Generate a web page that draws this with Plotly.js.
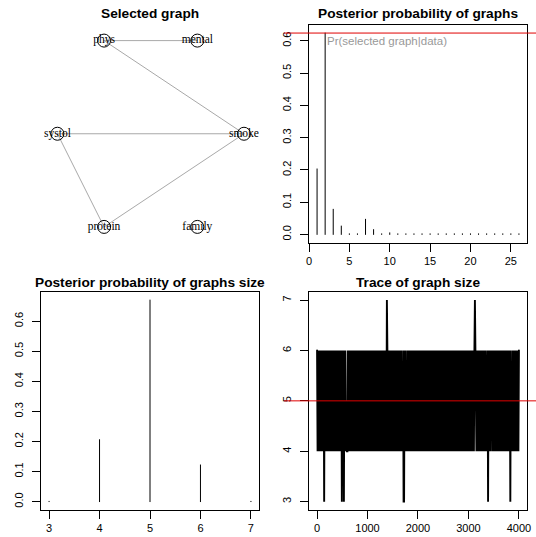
<!DOCTYPE html>
<html>
<head>
<meta charset="utf-8">
<script src="https://cdn.plot.ly/plotly-3.0.1.min.js"></script>
<style>
html,body{margin:0;padding:0;background:#fff;}
#chart{width:536px;height:537px;}
path.js-line{stroke-linecap:round;}
</style>
</head>
<body>
<div id="chart"></div>
<script>
// ---------- data ----------
// Selected graph (circle layout coordinates)
var nodeNames = ["phys", "mental", "systol", "smoke", "protein", "family"];
var nodeX = [-0.5, 0.5, -1, 1, -0.5, 0.5];
var nodeY = [0.866, 0.866, 0, 0, -0.866, -0.866];
var edgeFrom = ["phys", "phys", "systol", "systol", "protein"];
var edgeTo   = ["mental", "smoke", "smoke", "protein", "smoke"];

// Posterior probability of graphs
var graphIndex = [1,2,3,4,5,6,7,8,9,10,11,12,13,14,15,16,17,18,19,20,21,22,23,24,25,26];
var graphProb = [0.203,0.624,0.078,0.026,0.002,0.002,0.047,0.015,0.002,0.005,
                 0.002,0.002,0.002,0.002,0.002,0.002,0.002,0.002,0.002,0.002,
                 0.002,0.002,0.002,0.002,0.002,0.002];
var graphTicks = [0,5,10,15,20,25];

// Posterior probability of graph size
var sizes = [3,4,5,6,7];
var sizeProb = [0.001,0.206,0.670,0.122,0.001];

// Trace of graph size (thinned: one value every ~10 iterations, 1..4000)
var traceStart = 1;
var traceStep = 3999 / 399;
var traceSize = [
 6,4,6,4,5,6,4,6,5,4,6,4,5,6,3,6,4,6,4,6,
 4,6,4,6,5,4,6,4,6,5,4,6,4,6,5,4,6,4,6,5,
 4,6,4,6,5,4,6,4,6,3,6,4,6,3,6,4,6,4,5,4,
 4,6,4,6,5,4,6,4,6,5,4,6,4,6,5,4,6,4,6,5,
 4,6,4,6,5,4,6,4,6,5,4,6,4,6,5,4,6,4,6,5,
 4,6,4,6,5,4,6,4,6,5,4,6,4,6,5,4,6,4,6,5,
 4,6,4,6,5,4,6,4,6,5,4,6,4,6,5,4,6,4,7,6,
 4,6,4,6,5,4,6,4,6,5,4,6,4,6,5,4,6,4,6,5,
 4,6,4,6,5,4,6,4,5,4,6,3,3,6,4,6,4,5,4,6,
 4,6,4,6,5,4,6,4,6,5,4,6,4,6,5,4,6,4,6,5,
 4,6,4,6,5,4,6,4,6,5,4,6,4,6,5,4,6,4,6,5,
 4,6,4,6,5,4,6,4,6,5,4,6,4,6,5,4,6,4,6,5,
 4,6,4,6,5,4,6,4,6,5,4,6,4,6,5,4,6,4,6,5,
 4,6,4,6,5,4,6,4,6,5,4,6,4,6,5,4,6,4,6,5,
 4,6,4,6,5,4,6,4,6,5,4,6,4,6,5,4,6,4,6,5,
 4,6,4,6,5,4,6,4,6,5,4,6,7,6,5,4,6,4,6,5,
 4,6,4,6,5,4,6,4,6,5,4,6,4,6,5,4,5,6,3,6,
 4,6,4,6,5,6,4,6,4,6,5,4,6,4,6,5,4,6,4,6,
 4,6,4,6,5,4,6,4,6,5,4,6,4,6,5,4,6,4,6,5,
 4,6,3,6,4,5,4,6,4,6,5,4,6,4,6,5,4,6,4,6
];
var traceTicks = [0,1000,2000,3000,4000];
var selectedSize = 5;

// ---------- helpers ----------
function rRange(lo, hi){ var d = hi - lo; return [lo - 0.04*d, hi + 0.04*d]; }
function spikes(xs, ys){
  var X = [], Y = [];
  for (var i = 0; i < xs.length; i++){ X.push(xs[i], xs[i], null); Y.push(0, ys[i], null); }
  return {x: X, y: Y};
}
var W = 536, H = 537;
function px(v){ return v / W; }
function py(v){ return 1 - v / H; }

var sansFont = "Liberation Sans, Arial, Helvetica, sans-serif";
var tickFont = {family: sansFont, size: 11, color: "#000"};

function axisBase(extra){
  var a = {showgrid:false, zeroline:false, showline:true, mirror:true, linecolor:"#000", linewidth:1,
           ticks:"outside", ticklen:8, tickwidth:1, tickcolor:"#000", tickfont:tickFont, fixedrange:true};
  for (var k in extra) a[k] = extra[k];
  return a;
}

// ---------- traces ----------
var traces = [];

// network edges
var ex = [], ey = [];
for (var i = 0; i < edgeFrom.length; i++){
  var a = nodeNames.indexOf(edgeFrom[i]), b = nodeNames.indexOf(edgeTo[i]);
  ex.push(nodeX[a], nodeX[b], null); ey.push(nodeY[a], nodeY[b], null);
}
traces.push({x: ex, y: ey, xaxis:"x", yaxis:"y", mode:"lines", line:{color:"#a9a9a9", width:1}, hoverinfo:"skip"});
traces.push({x: nodeX, y: nodeY, xaxis:"x", yaxis:"y", mode:"markers",
  marker:{symbol:"circle-open", size:13, color:"#000", line:{width:1, color:"#000"}}, hoverinfo:"skip"});
traces.push({x: nodeX, y: nodeY, text: nodeNames, xaxis:"x", yaxis:"y", mode:"text", textposition:"middle center",
  textfont:{family:"Liberation Serif, Times New Roman, serif", size:11.5, color:"#000"}, hoverinfo:"skip"});

// posterior probability of graphs
var s1 = spikes(graphIndex, graphProb);
traces.push({x: s1.x, y: s1.y, xaxis:"x2", yaxis:"y2", mode:"lines", line:{color:"#000", width:1, simplify:false}, hoverinfo:"skip"});

// size probability
var s2 = spikes(sizes, sizeProb);
traces.push({x: s2.x, y: s2.y, xaxis:"x3", yaxis:"y3", mode:"lines", line:{color:"#000", width:1, simplify:false}, hoverinfo:"skip"});

// trace of graph size
traces.push({y: traceSize, x0: traceStart, dx: traceStep, xaxis:"x4", yaxis:"y4", mode:"lines",
  line:{color:"#000", width:1.9, simplify:false}, hoverinfo:"skip"});

var maxProb = Math.max.apply(null, graphProb);
var maxSizeProb = Math.max.apply(null, sizeProb);

var topDom = [py(242.5), py(25)];
var botDom = [py(509.7), py(292)];
var leftDom = [px(41), px(259)];
var rightDom = [px(309), px(527)];

var XS = 2.5, YS = 5;
var layout = {
  width: W, height: H,
  margin: {l:0, r:0, t:0, b:0},
  paper_bgcolor: "#fff", plot_bgcolor: "#fff",
  showlegend: false,
  font: {family: sansFont, color: "#000"},
  xaxis: {domain: leftDom, range: [-1.176, 1.161], visible:false, fixedrange:true},
  yaxis: {domain: topDom, range: [-1.011, 1.011], visible:false, fixedrange:true},
  xaxis2: axisBase({domain: rightDom, anchor:"y2", range: [0, 27], tickvals: graphTicks, ticklabelstandoff:XS}),
  yaxis2: axisBase({domain: topDom, anchor:"x2", range: rRange(0, maxProb), tickvals:[0,0.1,0.2,0.3,0.4,0.5,0.6], tickformat:".1f", tickangle:-90, ticklabelstandoff:YS}),
  xaxis3: axisBase({domain: leftDom, anchor:"y3", range: rRange(sizes[0], sizes[sizes.length-1]), tickvals: sizes, ticklabelstandoff:XS}),
  yaxis3: axisBase({domain: botDom, anchor:"x3", range: rRange(0, maxSizeProb), tickvals:[0,0.1,0.2,0.3,0.4,0.5,0.6], tickformat:".1f", tickangle:-90, ticklabelstandoff:YS}),
  xaxis4: axisBase({domain: rightDom, anchor:"y4", range: rRange(1, 4000), tickvals: traceTicks, ticklabelstandoff:XS}),
  yaxis4: axisBase({domain: botDom, anchor:"x4", range: rRange(3, 7), tickvals:[3,4,5,6,7], tickangle:-90, ticklabelstandoff:YS}),
  shapes: [
    {type:"line", xref:"paper", yref:"y2", x0: px(284), x1: 1, y0: maxProb, y1: maxProb, line:{color:"#e00000", width:1}},
    {type:"line", xref:"paper", yref:"y4", x0: px(284), x1: 1, y0: selectedSize, y1: selectedSize, line:{color:"#e00000", width:1}}
  ],
  annotations: [
    {text:"<b>Selected graph</b>", xref:"paper", yref:"paper", x: px(150), y: py(14), xanchor:"center", yanchor:"middle", showarrow:false, font:{family:sansFont, size:13.7, color:"#000"}},
    {text:"<b>Posterior probability of graphs</b>", xref:"paper", yref:"paper", x: px(418), y: py(14), xanchor:"center", yanchor:"middle", showarrow:false, font:{family:sansFont, size:13.7, color:"#000"}},
    {text:"<b>Posterior probability of graphs size</b>", xref:"paper", yref:"paper", x: px(150), y: py(282), xanchor:"center", yanchor:"middle", showarrow:false, font:{family:sansFont, size:13.7, color:"#000"}},
    {text:"<b>Trace of graph size</b>", xref:"paper", yref:"paper", x: px(418), y: py(282), xanchor:"center", yanchor:"middle", showarrow:false, font:{family:sansFont, size:13.7, color:"#000"}},
    {text:"Pr(selected graph|data)", xref:"x2", yref:"y2", x: graphIndex[graphProb.indexOf(maxProb)], y: maxProb, xanchor:"left", yanchor:"top", showarrow:false, font:{family:sansFont, size:11.5, color:"#999"}}
  ]
};

Plotly.newPlot("chart", traces, layout, {staticPlot:true, displayModeBar:false});
</script>
</body>
</html>
